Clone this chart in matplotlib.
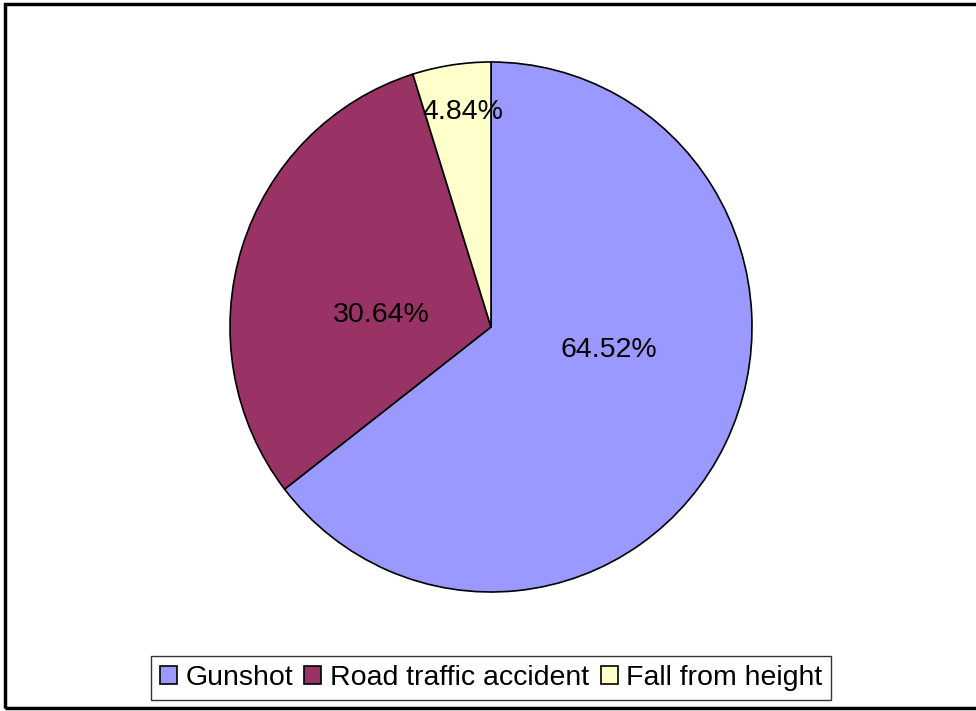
import matplotlib
matplotlib.use("Agg")
import matplotlib.pyplot as plt
import matplotlib.patches as mpatches

plt.rcParams['font.family'] = ['Liberation Sans', 'DejaVu Sans']

# 数据
categories = ['Gunshot', 'Road traffic accident', 'Fall from height']
shares = [64.52, 30.64, 4.84]
colors = ['#9999FF', '#993366', '#FFFFCC']
# label offsets inside the pie (in radius units), as Excel placed them
label_pos = [(0.452, -0.087), (-0.422, 0.046), (-0.108, 0.81)]

W, H = 976, 711
fig = plt.figure(figsize=(W / 100, H / 100), dpi=100)

# pie centre / radii in pixels (the original is a touch taller than wide)
cx, cy, rx, ry = 491, 327, 261, 265
ax = fig.add_axes([(cx - rx) / W, (H - cy - ry) / H, 2 * rx / W, 2 * ry / H])
wedges, _ = ax.pie(shares, colors=colors, startangle=90, counterclock=False,
                   radius=1, wedgeprops=dict(edgecolor='black', linewidth=1.2))
for w in wedges:
    w.set_clip_on(False)
ax.set_xlim(-1, 1)
ax.set_ylim(-1, 1)
ax.set_aspect('auto')
ax.axis('off')

for (x, y), v in zip(label_pos, shares):
    ax.text(x, y, f"{v:.2f}%", ha='center', va='center', fontsize=20.5,
            color='black')

# legend
handles = [mpatches.Patch(facecolor=c, edgecolor='black', linewidth=1.2, label=n)
           for c, n in zip(colors, categories)]
leg = fig.legend(handles=handles, loc='center', bbox_to_anchor=(491 / W, 33 / H),
                 ncol=3, fontsize=20.5, frameon=True, fancybox=False,
                 handlelength=0.6, handleheight=0.6, handletextpad=0.3,
                 columnspacing=0.4, borderpad=0.3, borderaxespad=0)
leg.get_frame().set_edgecolor('black')
leg.get_frame().set_linewidth(1)

# outer frame
frame = mpatches.Rectangle((5 / W, 3 / H), (W + 5) / W, (H - 7) / H,
                           transform=fig.transFigure, fill=False,
                           edgecolor='black', linewidth=2.5, clip_on=False)
fig.patches.append(frame)

fig.savefig('out.png', dpi=100)
